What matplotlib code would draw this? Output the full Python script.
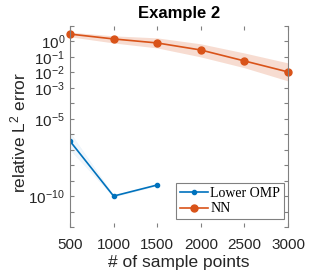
import numpy as np
import matplotlib
matplotlib.use("Agg")
import matplotlib.pyplot as plt
from matplotlib.ticker import FixedLocator, FuncFormatter, NullLocator

# ---- data ----
samples = [500, 1000, 1500, 2000, 2500, 3000]
nn_err = [3.0, 1.45, 0.8, 0.28, 0.055, 0.0107]
nn_lo = [2.0, 0.8, 0.38, 0.1, 0.02, 0.0028]
nn_hi = [4.0, 2.3, 1.7, 0.7, 0.18, 0.041]
omp_samples = [500, 1000, 1500]
omp_err = [3.6e-7, 1.0e-10, 5.2e-10]
omp_lo = [1.0e-7, 0.9e-10, 4.8e-10]
omp_hi = [1.3e-6, 1.1e-10, 5.6e-10]
labeled_exps = [0, -1, -2, -3, -5, -10]
xticks = [500, 1000, 1500, 2000, 2500, 3000]

plt.rcParams['mathtext.fontset'] = 'custom'
plt.rcParams['mathtext.rm'] = 'Liberation Sans'
plt.rcParams['mathtext.it'] = 'Liberation Sans:italic'
plt.rcParams['mathtext.bf'] = 'Liberation Sans:bold'
plt.rcParams['font.family'] = ['Liberation Sans', 'DejaVu Sans']

blue = '#0072BD'
orange = '#D95319'

fig = plt.figure(figsize=(3.19, 2.73), dpi=100)
ax = fig.add_axes([0.2194, 0.1685, 0.6834, 0.7363])
ax.set_yscale('log')

ax.fill_between(omp_samples, omp_lo, omp_hi, color=blue, alpha=0.06,
                edgecolor=blue, linewidth=0.3)
ax.fill_between(samples, nn_lo, nn_hi, color=orange, alpha=0.2, linewidth=0)
ax.plot(omp_samples, omp_err, '-o', color=blue, lw=1.2, ms=3, label='Lower OMP')
ax.plot(samples, nn_err, '-o', color=orange, lw=1.2, ms=5, label='NN', clip_on=False)

ax.set_xlim(500, 3000)
ax.set_ylim(1e-12, 1e1)
ax.set_xticks(xticks)
ax.set_xticklabels([str(v) for v in xticks])

ax.yaxis.set_major_locator(FixedLocator([10.0 ** e for e in range(-12, 2)]))
ax.yaxis.set_minor_locator(NullLocator())

def fmt(v, pos):
    e = int(round(np.log10(v)))
    if e in labeled_exps:
        return r'$\mathregular{10^{%d}}$' % e
    return ''
ax.yaxis.set_major_formatter(FuncFormatter(fmt))

for s in ['top', 'bottom']:
    ax.spines[s].set_visible(False)
for s in ['left', 'right']:
    ax.spines[s].set_color('#808080')
    ax.spines[s].set_linewidth(0.8)

ax.tick_params(axis='both', which='both', direction='in', length=3,
               color='#808080', labelsize=11, labelcolor='#262626',
               top=True, right=True)
ax.tick_params(axis='x', pad=8)

ax.set_title('Example 2', fontsize=12, fontweight='bold', pad=6)
ax.set_xlabel('# of sample points', fontsize=12.5, color='#262626', labelpad=2)
ax.set_ylabel(r'relative L$^{2}$ error', fontsize=12.5, color='#262626')
ax.yaxis.set_label_coords(-0.19, 0.47)

leg = ax.legend(loc='lower right', bbox_to_anchor=(0.98, 0.04),
                prop={'family': 'Liberation Serif', 'size': 10},
                fancybox=False, edgecolor='#808080', framealpha=1,
                handlelength=2.0, borderpad=0.25, labelspacing=0.2,
                handletextpad=0.2, borderaxespad=0)
leg.get_frame().set_linewidth(0.8)

fig.savefig('out.png', dpi=100)
